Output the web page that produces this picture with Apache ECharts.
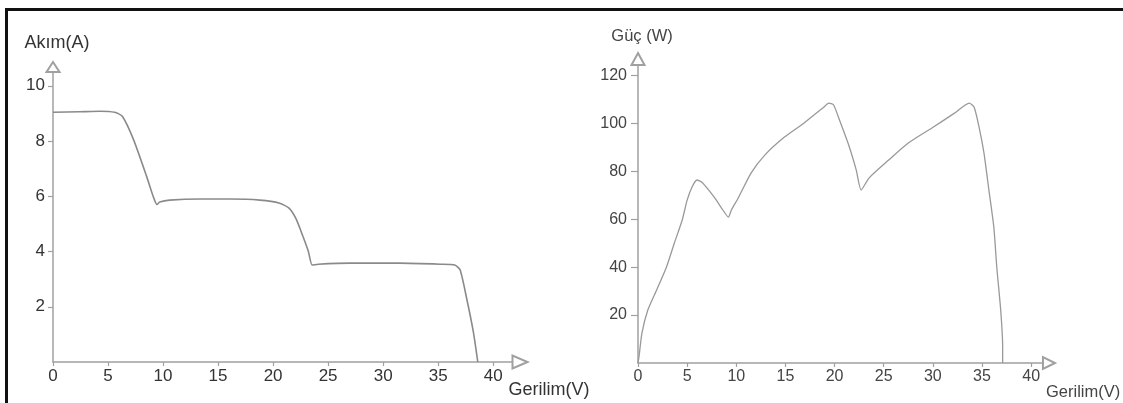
<!DOCTYPE html>
<html>
<head>
<meta charset="utf-8">
<script src="https://cdn.jsdelivr.net/npm/echarts@6/dist/echarts.min.js"></script>
<style>
  html, body { margin: 0; padding: 0; background: #fff; }
  #frame { position: absolute; left: 5px; top: 8px; width: 1118px; height: 395px; border-top: 3px solid #111; border-left: 3px solid #111; box-sizing: border-box; }
  #chart { position: absolute; left: 0; top: 0; width: 1123px; height: 403px; }
</style>
</head>
<body>
<div id="frame"></div>
<div id="chart"></div>
<script>
  /* akım - gerilim eğrisi */
  var ivVoltage = [0, 2.4, 4.3, 5.6, 6.3, 7.3, 8.5, 9.1, 9.45, 9.7, 10.6, 13.4, 16.1, 18.8, 20.6, 21.45, 22.1, 22.7, 23.2, 23.55, 24.1, 27, 31.5, 35.2, 36.5, 37, 37.6, 38.2, 38.6]
  var ivCurrent = [9.04, 9.06, 9.08, 9.04, 8.9, 8.07, 6.73, 6.0, 5.7, 5.79, 5.86, 5.9, 5.9, 5.86, 5.75, 5.57, 5.17, 4.56, 4.01, 3.51, 3.54, 3.58, 3.58, 3.54, 3.51, 3.33, 2.28, 1.08, 0]
  /* güç - gerilim eğrisi */
  var pvVoltage = [0, 0.1, 0.4, 1.0, 1.9, 2.9, 3.7, 4.5, 5.0, 5.5, 6.0, 6.5, 7.2, 7.9, 8.5, 9.2, 9.5, 10.2, 11.5, 12.9, 14.9, 16.9, 18.9, 19.4, 19.9, 20.5, 21.5, 22.2, 22.7, 23.5, 25.5, 27.5, 29.9, 32.2, 33.7, 34.2, 34.7, 35.2, 35.7, 36.2, 36.5, 36.9, 37.1, 37.1]
  var pvPower = [0, 2.5, 12.5, 22.1, 30.5, 40.1, 50.1, 59.7, 68.0, 73.5, 76.4, 75.5, 72.2, 68.4, 64.7, 60.9, 63.9, 68.9, 79.3, 86.8, 94.3, 100.2, 106.8, 108.5, 107.7, 101.4, 90.2, 80.6, 72.2, 77.2, 84.7, 91.8, 98.1, 104.3, 108.5, 106.8, 98.5, 87.6, 72.2, 56.8, 40.1, 22.1, 6.7, 0]
  /* eksen etiketleri */
  var voltageTicks = [0, 5, 10, 15, 20, 25, 30, 35, 40]
  var currentTicks = [2, 4, 6, 8, 10]
  var powerTicks = [20, 40, 60, 80, 100, 120]

  var axisGrey = '#a0a0a0'
  var font = "'Liberation Sans', Arial, sans-serif"

  function pairs(xs, ys) {
    return xs.map(function (x, i) { return [x, ys[i]] })
  }

  function makeAxis(opt) {
    return {
      type: 'value',
      gridIndex: opt.grid,
      min: 0,
      max: opt.max,
      name: opt.name,
      nameLocation: 'end',
      nameGap: opt.nameGap,
      nameTextStyle: opt.nameStyle,
      axisLine: {
        show: true,
        symbol: ['none', 'emptyTriangle'],
        symbolSize: opt.arrow,
        symbolOffset: [0, opt.arrowOffset],
        lineStyle: { color: axisGrey, width: 1.5 }
      },
      axisTick: {
        show: true,
        length: opt.tickLen,
        customValues: opt.ticks,
        lineStyle: { color: axisGrey, width: 1.2 }
      },
      axisLabel: {
        customValues: opt.ticks,
        margin: opt.margin,
        color: opt.textColor,
        fontSize: opt.fontSize,
        fontFamily: font
      },
      splitLine: { show: false }
    }
  }

  var chart = echarts.init(document.getElementById('chart'))
  chart.setOption({
    animation: false,
    grid: [
      { left: 53, top: 72, width: 460, height: 290 },
      { left: 638, top: 65, width: 412, height: 298 }
    ],
    xAxis: [
      makeAxis({
        grid: 0, max: 41.8, name: 'Gerilim(V)', nameGap: -6,
        nameStyle: { color: '#333', fontSize: 18, fontFamily: font, verticalAlign: 'top', padding: [19, 0, 0, 0] },
        arrow: [13, 15], arrowOffset: 7, tickLen: 4, ticks: voltageTicks, margin: 6, textColor: '#333', fontSize: 17
      }),
      makeAxis({
        grid: 1, max: 41.2, name: 'Gerilim(V)', nameGap: -8,
        nameStyle: { color: '#444', fontSize: 16.5, fontFamily: font, verticalAlign: 'top', padding: [21, 0, 0, 0] },
        arrow: [12, 12], arrowOffset: 6, tickLen: 4, ticks: voltageTicks, margin: 6, textColor: '#444', fontSize: 16
      })
    ],
    yAxis: [
      makeAxis({
        grid: 0, max: 10.5, name: 'Akım(A)', nameGap: 20,
        nameStyle: { color: '#333', fontSize: 18, fontFamily: font, padding: [0, 0, 0, 8] },
        arrow: [13, 10], arrowOffset: 5, tickLen: 5, ticks: currentTicks, margin: 8, textColor: '#333', fontSize: 17
      }),
      makeAxis({
        grid: 1, max: 124.4, name: 'Güç (W)', nameGap: 20,
        nameStyle: { color: '#444', fontSize: 16.5, fontFamily: font, padding: [0, 0, 0, 8] },
        arrow: [13, 12], arrowOffset: 6, tickLen: 7, ticks: powerTicks, margin: 11, textColor: '#444', fontSize: 16
      })
    ],
    series: [
      {
        type: 'line',
        xAxisIndex: 0,
        yAxisIndex: 0,
        data: pairs(ivVoltage, ivCurrent),
        showSymbol: false,
        smooth: 0.2,
        lineStyle: { color: '#8a8a8a', width: 1.6 }
      },
      {
        type: 'line',
        xAxisIndex: 1,
        yAxisIndex: 1,
        data: pairs(pvVoltage, pvPower),
        showSymbol: false,
        smooth: 0.2,
        lineStyle: { color: '#999', width: 1.3 }
      }
    ]
  })
</script>
</body>
</html>
